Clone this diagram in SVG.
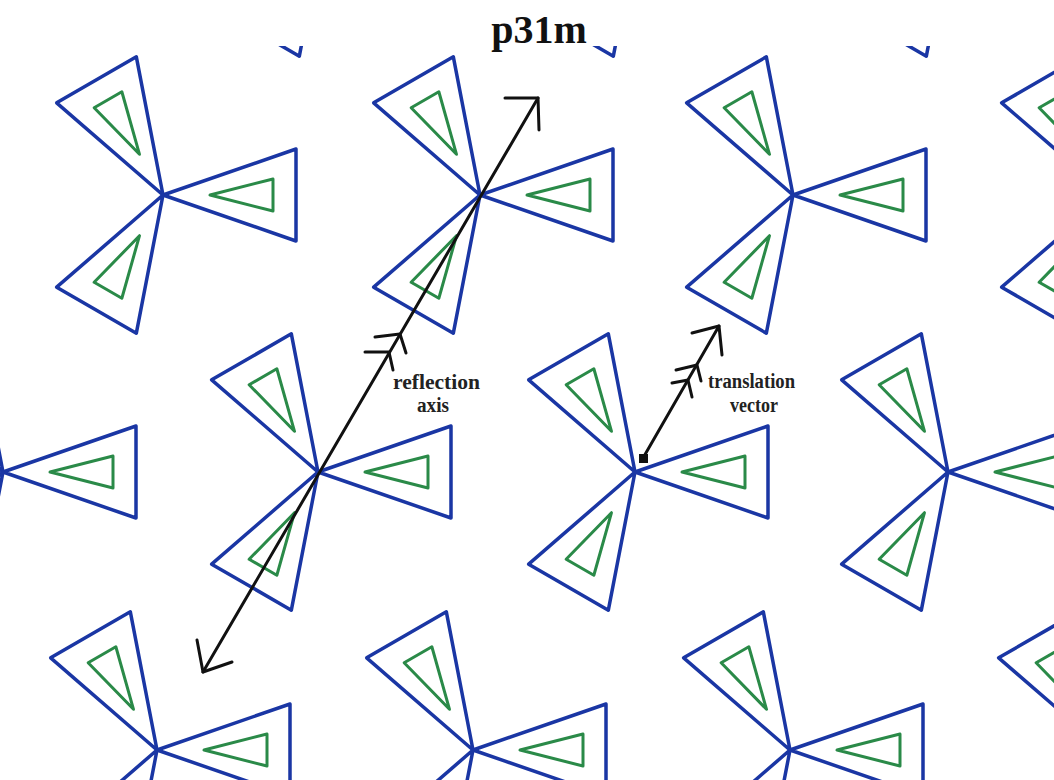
<svg xmlns="http://www.w3.org/2000/svg" xmlns:xlink="http://www.w3.org/1999/xlink" width="1054" height="780" viewBox="0 0 1054 780">
<style>
.b{fill:none;stroke:#1a36a4;stroke-width:3.5;stroke-linejoin:round}
.g{fill:none;stroke:#2a8a48;stroke-width:3;stroke-linejoin:round}
.k{fill:none;stroke:#111;stroke-width:3;stroke-linecap:round;stroke-linejoin:round}
.lbl{font-family:"Liberation Serif","Times New Roman",serif;font-weight:bold;font-size:20px;fill:#222}
.title{font-family:"Liberation Serif","Times New Roman",serif;font-weight:bold;font-size:40px;fill:#111}
</style>
<defs>
<g id="arm"><path class="b" d="M0,0 L133,-46 L133,46 Z"/><path class="g" d="M47,0 L110,-16 L110,16 Z"/></g>
<g id="motif"><use xlink:href="#arm"/><use xlink:href="#arm" transform="rotate(-120)"/><use xlink:href="#arm" transform="rotate(120)"/></g>
<clipPath id="clip"><rect x="0" y="46" width="1054" height="734"/></clipPath>
</defs>
<rect width="1054" height="780" fill="#fff"/>
<text class="title" x="539" y="43" text-anchor="middle">p31m</text>
<g id="motifs" clip-path="url(#clip)">
<g id="r0c1" transform="translate(326,-82)"><use xlink:href="#motif"/></g>
<g id="r0c2" transform="translate(640,-82)"><use xlink:href="#motif"/></g>
<g id="r0c3" transform="translate(953,-82)"><use xlink:href="#motif"/></g>
<g id="r1c0" transform="translate(163,195)"><use xlink:href="#motif"/></g>
<g id="r1c1" transform="translate(480,195)"><use xlink:href="#motif"/></g>
<g id="r1c2" transform="translate(793,195)"><use xlink:href="#motif"/></g>
<g id="r1c3" transform="translate(1108,195)"><use xlink:href="#motif"/></g>
<g id="r2c0" transform="translate(3,472)"><use xlink:href="#motif"/></g>
<g id="r2c1" transform="translate(318,472)"><use xlink:href="#motif"/></g>
<g id="r2c2" transform="translate(635,472)"><use xlink:href="#motif"/></g>
<g id="r2c3" transform="translate(948,472)"><use xlink:href="#motif"/></g>
<g id="r3c0" transform="translate(157,750)"><use xlink:href="#motif"/></g>
<g id="r3c1" transform="translate(473,750)"><use xlink:href="#motif"/></g>
<g id="r3c2" transform="translate(790,750)"><use xlink:href="#motif"/></g>
<g id="r3c3" transform="translate(1105,750)"><use xlink:href="#motif"/></g>
</g>
<g id="connectors">
<g id="reflection-axis">
<path class="k" d="M203,672 L538,98"/>
<path class="k" d="M505,98 L538,98 L539,130"/>
<path class="k" d="M197,640 L203,672 L232,662"/>
<path class="k" d="M375,337 L400,334 L406,353"/>
<path class="k" d="M365,352 L389,352 L393,370"/>
</g>
<g id="translation-vector">
<rect x="639" y="454" width="9" height="9" fill="#111"/>
<path class="k" d="M643,458 L719,326"/>
<path class="k" d="M692,333 L719,326 L722,355"/>
<path class="k" d="M676,370 L697,365 L701,381"/>
<path class="k" d="M672,383 L688,380 L692,397"/>
</g>
</g>
<g id="labels">
<text class="lbl" x="393" y="389" textLength="87" lengthAdjust="spacingAndGlyphs">reflection</text>
<text class="lbl" x="417" y="412" textLength="32" lengthAdjust="spacingAndGlyphs">axis</text>
<text class="lbl" x="708" y="388" textLength="87" lengthAdjust="spacingAndGlyphs">translation</text>
<text class="lbl" x="730" y="412" textLength="48" lengthAdjust="spacingAndGlyphs">vector</text>
</g>
</svg>
